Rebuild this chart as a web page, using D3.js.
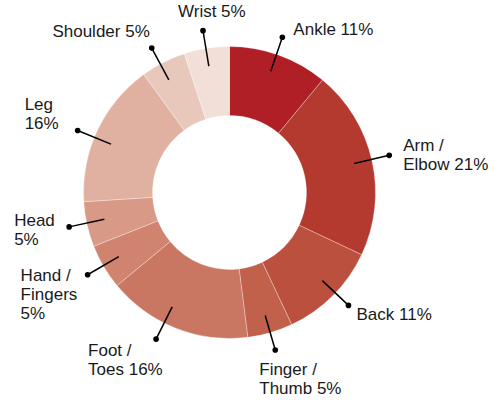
<!DOCTYPE html>
<html>
<head>
<meta charset="utf-8">
<script src="https://cdn.jsdelivr.net/npm/d3@7"></script>
<style>
  body { margin: 0; background: #fff; }
  svg { display: block; }
  .slice-label { font-family: "Liberation Sans", Arial, Helvetica, sans-serif; font-size: 17px; fill: #1a1a1a; }
</style>
</head>
<body>
<div id="figure-container"></div>
<script>
// data
var categories = ['Ankle', 'Arm / Elbow', 'Back', 'Finger / Thumb', 'Foot / Toes',
  'Hand / Fingers', 'Head', 'Leg', 'Shoulder', 'Wrist'];
var percents = [11, 21, 11, 5, 16, 5, 5, 16, 5, 5];
// how each label wraps
var labelLines = [
  ['Ankle 11%'],
  ['Arm /', 'Elbow 21%'],
  ['Back 11%'],
  ['Finger /', 'Thumb 5%'],
  ['Foot /', 'Toes 16%'],
  ['Hand /', 'Fingers', '5%'],
  ['Head', '5%'],
  ['Leg', '16%'],
  ['Shoulder 5%'],
  ['Wrist 5%']
];

var colors = ['#b01f25', '#b4392f', '#bb503e', '#c1614c', '#c97762',
  '#d0846f', '#d89a87', '#e0b1a1', '#e9c8bc', '#f1dfd8'];

// label layout: [angle nudge (deg), text dx, text dy, anchor]
var labelPos = [
  [-1, 11, -2, 'start'],
  [-0.5, 14, -4, 'start'],
  [-1.5, 8, 15, 'start'],
  [0, -16, 25, 'start'],
  [5, -68, 17, 'start'],
  [0.5, -67, 6, 'start'],
  [0.5, -55, -1, 'start'],
  [-3, -53, -21, 'start'],
  [-1.3, -2, -11, 'end'],
  [-0.3, -25, -14, 'start']
];

var width = 501, height = 400;
var cx = 229.5, cy = 192.5;
var outerR = 146, innerR = 77;
var lineStartR = 128, dotR = 164;
var lineH = 19;

var data = categories.map(function(c, i) {
  return {name: c, value: percents[i], idx: i};
});

var pie = d3.pie()
  .sort(null)
  .value(function(d) { return d.value; });

var arc = d3.arc()
  .innerRadius(innerR)
  .outerRadius(outerR);

var color = d3.scaleOrdinal()
  .domain(categories)
  .range(colors);

var svg = d3.select('#figure-container')
  .append('svg')
  .attr('width', width)
  .attr('height', height)
  .append('g')
  .attr('transform', `translate(${cx},${cy})`);

var arcs = pie(data);

svg.append('g')
  .selectAll('path')
  .data(arcs)
  .enter()
    .append('path')
    .attr('d', arc)
    .attr('fill', function(d) { return color(d.data.name); })
    .attr('stroke', 'rgba(255,255,255,0.5)')
    .attr('stroke-width', 0.6);

var labelAngle = function(d) {
  return (d.startAngle + d.endAngle) / 2 + labelPos[d.data.idx][0] * Math.PI / 180;
};
var polar = function(a, r) {
  return [Math.sin(a) * r, -Math.cos(a) * r];
};

var labels = svg.append('g')
  .selectAll('g')
  .data(arcs)
  .enter()
    .append('g');

labels.append('line')
  .attr('x1', function(d) { return polar(labelAngle(d), lineStartR)[0]; })
  .attr('y1', function(d) { return polar(labelAngle(d), lineStartR)[1]; })
  .attr('x2', function(d) { return polar(labelAngle(d), dotR)[0]; })
  .attr('y2', function(d) { return polar(labelAngle(d), dotR)[1]; })
  .attr('stroke', '#000')
  .attr('stroke-width', 1.5);

labels.append('circle')
  .attr('cx', function(d) { return polar(labelAngle(d), dotR)[0]; })
  .attr('cy', function(d) { return polar(labelAngle(d), dotR)[1]; })
  .attr('r', 2.8)
  .attr('fill', '#000');

var texts = labels.append('text')
  .attr('class', 'slice-label')
  .attr('text-anchor', function(d) { return labelPos[d.data.idx][3]; })
  .attr('transform', function(d) {
    var p = polar(labelAngle(d), dotR);
    var off = labelPos[d.data.idx];
    return `translate(${p[0] + off[1]},${p[1] + off[2]})`;
  });

texts.selectAll('tspan')
  .data(function(d) { return labelLines[d.data.idx]; })
  .enter()
    .append('tspan')
    .attr('x', 0)
    .attr('y', function(d, i) { return i * lineH; })
    .text(function(d) { return d; });
</script>
</body>
</html>
